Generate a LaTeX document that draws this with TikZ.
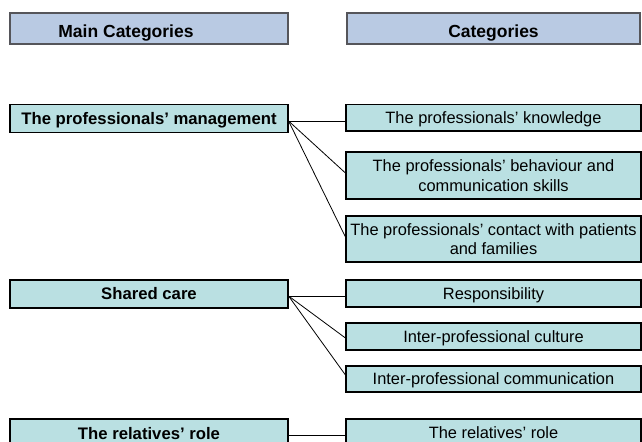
\documentclass[tikz,border=0pt]{standalone}
\usepackage{fontspec}
\setmainfont{Liberation Sans}
\definecolor{boxfill}{RGB}{186,224,226}
\definecolor{headfill}{RGB}{185,202,227}
\definecolor{headline}{RGB}{85,85,90}
\begin{document}
\begin{tikzpicture}[x=1bp,y=-1bp,
  headfont/.style={font=\fontsize{17.5bp}{21bp}\selectfont\bfseries},
  headbox/.style={draw=headline, line width=1.3bp, fill=headfill, inner sep=0pt,
    minimum height=31bp},
  headtext/.style={headfont, inner sep=0pt, text height=12.5bp, text depth=0pt},
  mainbox/.style={draw=black, line width=1.1bp, fill=boxfill, inner sep=0pt,
    minimum width=278bp, minimum height=28bp, text height=12bp, text depth=0pt,
    font=\fontsize{16.7bp}{20bp}\selectfont\bfseries},
  catbox/.style={draw=black, line width=1.1bp, fill=boxfill, inner sep=0pt,
    minimum width=295bp, align=center, font=\fontsize{16.4bp}{19.5bp}\selectfont},
  onecat/.style={catbox, text height=11.8bp, text depth=0pt},
  link/.style={draw=black, line width=0.8bp}]
\useasboundingbox (0,0) rectangle (642,442);
\clip (0,0) rectangle (642,442);
% headers
\node[headbox, minimum width=278bp] (h1) at (149,28.5) {};
\node[headtext] (h1t) at (126,31) {Main Categories};
\node[headbox, minimum width=293bp] (h2) at (493.5,28.5) {};
\node[headtext] (h2t) at (493.5,31) {Categories};
% main categories
\node[mainbox] (pm) at (149,118.3) {The professionals’ management};
\node[mainbox] (sc) at (149,294) {Shared care};
\node[mainbox] (rr) at (149,433) {The relatives’ role};
% categories
\node[onecat, minimum height=26.5bp] (kn) at (493.5,117.8) {The professionals’ knowledge};
\node[catbox, minimum height=47bp] (bh) at (493.5,175.5) {The professionals’ behaviour and\\communication skills};
\node[catbox, minimum height=46bp] (ct) at (493.5,239) {The professionals’ contact with patients\\and families};
\node[onecat, minimum height=27bp] (rs) at (493.5,293.5) {Responsibility};
\node[onecat, minimum height=27bp] (cu) at (493.5,336.5) {Inter-professional culture};
\node[onecat, minimum height=26bp] (cm) at (493.5,379) {Inter-professional communication};
\node[onecat, minimum height=28bp] (rk) at (493.5,433) {The relatives’ role};
% connectors
\coordinate (pmo) at ([yshift=-2.7bp]pm.east);
\coordinate (sco) at ([yshift=-2bp]sc.east);
\coordinate (rro) at ([yshift=-2bp]rr.east);
\draw[link] (pmo) -- (pmo -| kn.west);
\draw[link] (pmo) -- ([yshift=2.5bp]bh.west);
\draw[link] (pmo) -- ([yshift=2bp]ct.west);
\draw[link] (sco) -- (sco -| rs.west);
\draw[link] (sco) -- ([yshift=-1.5bp]cu.west);
\draw[link] (sco) -- ([yshift=4bp]cm.west);
\draw[link] (rro) -- (rro -| rk.west);
\end{tikzpicture}
\end{document}
